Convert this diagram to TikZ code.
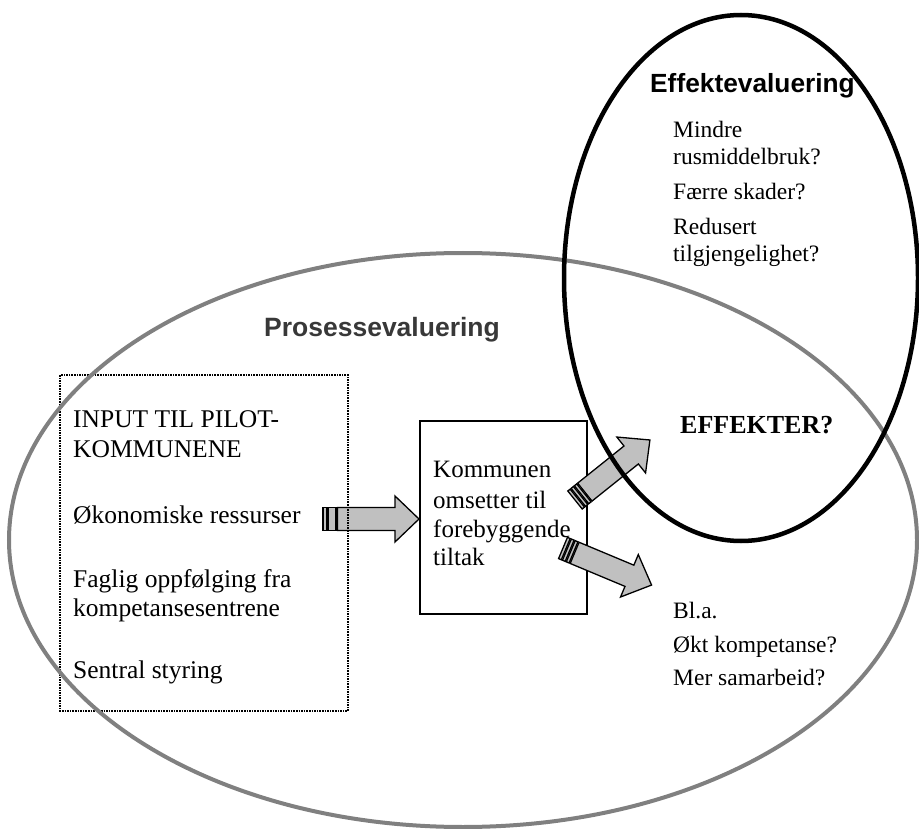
\documentclass[tikz,border=0pt]{standalone}
\usepackage{fontspec}
\setmainfont{Liberation Serif}
\newfontfamily\headfont{Liberation Sans}
\usepackage{tikz}
\definecolor{arrowfill}{RGB}{192,192,192}
\definecolor{procgrey}{RGB}{128,128,128}
\definecolor{headgrey}{RGB}{56,56,56}
\newcommand{\drawthin}{\draw[line width=1.3pt]}
\newcommand{\inputsize}{\fontsize{25.5}{30}\selectfont}
\newcommand{\boxsize}{\fontsize{25}{30}\selectfont}
\newcommand{\effsize}{\fontsize{23.5}{28}\selectfont}
\newcommand{\putline}[5]{\node[txtline, font=#5] (#1) at (#2,#3) {#4};}
% name, tail x, tail y, angle, bars a/b, body start
\newcommand{\fatarrow}[6]{
  \begin{scope}[shift={(#2,#3)}, rotate=#4]
    \coordinate (#1-tail) at (0,0);
    \coordinate (#1-tip) at (96,0);
    \foreach \a/\b in {#5}{
      \drawthin[fill=arrowfill] (\a,-11.5) rectangle (\b,11.5);
    }
    \drawthin[fill=arrowfill] (#6,-11.5)--(72,-11.5)--(72,-23)--(#1-tip)--(72,23)--(72,11.5)--(#6,11.5)--cycle;
  \end{scope}
}

\begin{document}
\begin{tikzpicture}[x=1pt, y=-1pt,
    txtline/.style={anchor=base west, inner sep=0pt}]
\useasboundingbox (0,0) rectangle (919,829);
% municipality box
\draw[line width=2pt] (420,421) rectangle (587,614);
% block arrows
\fatarrow{inarrow}{323}{519}{0}{0/4,5.5/13}{14.5}
\fatarrow{effarrow}{575}{500}{38.7}{0/3,4.2/7.2,8.4/11.4}{12.6}
\fatarrow{sidearrow}{563}{548}{-22.7}{0/3,4.2/7.2,8.4/11.4}{12.6}
% input box
\draw[densely dotted, line width=1.6pt] (60,375) rectangle (348,711);
% headings
\node[anchor=base, inner sep=0pt, text=headgrey, font=\headfont\bfseries\fontsize{26.5}{30}\selectfont] (proc) at (382,336) {Prosessevaluering};
\putline{effhead}{650}{93}{Effektevaluering}{\headfont\bfseries\fontsize{26.3}{30}\selectfont}
\putline{effekter}{680}{433}{EFFEKTER?}{\bfseries\fontsize{26}{30}\selectfont}
% input
\putline{in1}{73}{427}{INPUT TIL PILOT-}{\inputsize}
\putline{in2}{73}{457}{KOMMUNENE}{\inputsize}
\putline{in3}{73}{523}{Økonomiske ressurser}{\inputsize}
\putline{in4}{73}{587}{Faglig oppfølging fra}{\inputsize}
\putline{in5}{73}{616}{kompetansesentrene}{\inputsize}
\putline{in6}{73}{678}{Sentral styring}{\inputsize}
% municipality
\putline{ko1}{433}{477}{Kommunen}{\boxsize}
\putline{ko2}{433}{508}{omsetter til}{\boxsize}
\putline{ko3}{433}{537}{forebyggende}{\boxsize}
\putline{ko4}{433}{565}{tiltak}{\boxsize}
% effects
\putline{ef1}{673}{138}{Mindre}{\effsize}
\putline{ef2}{673}{165}{rusmiddelbruk?}{\effsize}
\putline{ef3}{673}{200}{Færre skader?}{\effsize}
\putline{ef4}{673}{235}{Redusert}{\effsize}
\putline{ef5}{673}{262}{tilgjengelighet?}{\effsize}
% process results
\putline{pr1}{673}{618}{Bl.a.}{\effsize}
\putline{pr2}{673}{652}{Økt kompetanse?}{\effsize}
\putline{pr3}{673}{685}{Mer samarbeid?}{\effsize}
% the two evaluations
\draw[procgrey, line width=4pt] (463,540) ellipse [x radius=454pt, y radius=287pt];
\draw[line width=4.5pt] (741,278) ellipse [x radius=177pt, y radius=263pt];
\end{tikzpicture}
\end{document}
